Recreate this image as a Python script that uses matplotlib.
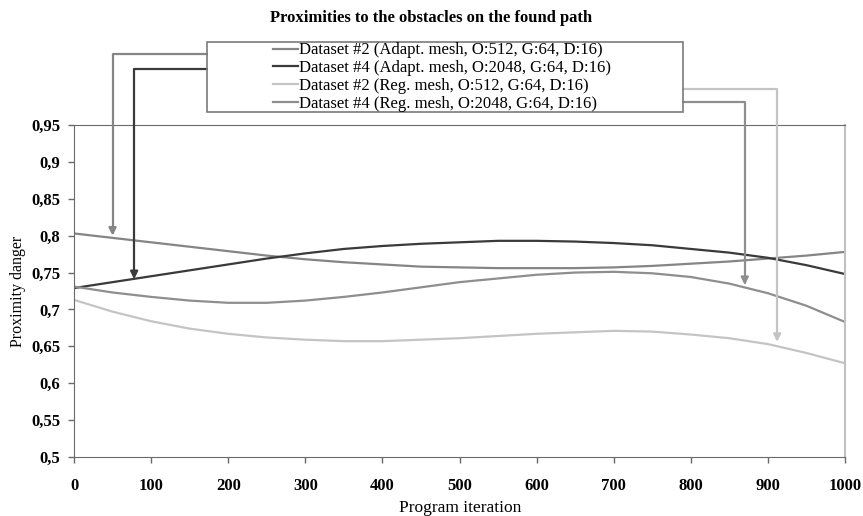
import matplotlib.pyplot as plt
from matplotlib.patches import Rectangle
import numpy as np

plt.rcParams['font.family'] = ['Liberation Serif', 'DejaVu Serif']

iterations = np.arange(0, 1001, 50)

adapt_ds2 = [0.803, 0.797, 0.791, 0.785, 0.779, 0.773, 0.768, 0.764, 0.761, 0.758, 0.757,
             0.756, 0.756, 0.756, 0.757, 0.759, 0.762, 0.765, 0.769, 0.773, 0.778]
adapt_ds4 = [0.729, 0.737, 0.745, 0.753, 0.761, 0.769, 0.776, 0.782, 0.786, 0.789, 0.791,
             0.793, 0.793, 0.792, 0.790, 0.787, 0.782, 0.777, 0.770, 0.760, 0.748]
reg_ds2 = [0.713, 0.697, 0.684, 0.674, 0.667, 0.662, 0.659, 0.657, 0.657, 0.659, 0.661,
           0.664, 0.667, 0.669, 0.671, 0.670, 0.666, 0.661, 0.653, 0.641, 0.627]
reg_ds4 = [0.731, 0.723, 0.717, 0.712, 0.709, 0.709, 0.712, 0.717, 0.723, 0.730, 0.737,
           0.742, 0.747, 0.750, 0.751, 0.749, 0.744, 0.735, 0.722, 0.705, 0.683]

labels = ['Dataset #2 (Adapt. mesh, O:512, G:64, D:16)',
          'Dataset #4 (Adapt. mesh, O:2048, G:64, D:16)',
          'Dataset #2 (Reg. mesh, O:512, G:64, D:16)',
          'Dataset #4 (Reg. mesh, O:2048, G:64, D:16)']
colors = ['#858585', '#3a3a3a', '#c4c4c4', '#8e8e8e']

# where each legend arrow points (iteration, value)
arrow_x = [50, 78, 912, 870]
arrow_y = [0.800, 0.741, 0.656, 0.733]

yticks = [0.5, 0.55, 0.6, 0.65, 0.7, 0.75, 0.8, 0.85, 0.9, 0.95]
ytick_labels = ['0,5', '0,55', '0,6', '0,65', '0,7', '0,75', '0,8', '0,85', '0,9', '0,95']
xticks = list(range(0, 1001, 100))

W, H = 863, 516
fig = plt.figure(figsize=(W / 100, H / 100), dpi=100)
ax = fig.add_axes([74 / W, 1 - 457 / H, (845 - 74) / W, (457 - 125) / H])

series = [adapt_ds2, adapt_ds4, reg_ds2, reg_ds4]
handles = []
for vals, c, lab in zip(series, colors, labels):
    h, = ax.plot(iterations, vals, color=c, lw=1.6, label=lab)
    handles.append(h)

ax.set_xlim(0, 1000)
ax.set_ylim(0.5, 0.95)
ax.set_xticks(xticks)
ax.set_xticklabels([str(t) for t in xticks], fontweight='bold', fontsize=12)
ax.set_yticks(yticks)
ax.set_yticklabels(ytick_labels, fontweight='bold', fontsize=12)
ax.tick_params(direction='out', length=4, width=1, color='#6a6a6a', pad=11)
ax.tick_params(axis='y', pad=6)

for s in ['left', 'bottom', 'top']:
    ax.spines[s].set_color('#6a6a6a')
ax.spines['right'].set_color('#c0c0c0')
ax.spines['right'].set_linewidth(1.5)

fig.text(460 / W, 0.5 / H, 'Program iteration', fontsize=12.5, ha='center', va='bottom')
ax.set_ylabel('Proximity danger', fontsize=11.5)
ax.yaxis.set_label_coords(-0.062, 0.5)

fig.text(0.5, 1 - 18 / H, 'Proximities to the obstacles on the found path',
         ha='center', va='center', fontweight='bold', fontsize=12)

# legend box
fig.patches.append(Rectangle((207 / W, 1 - 112 / H), 476 / W, 70 / H,
                             transform=fig.transFigure, fill=False,
                             edgecolor='#7a7a7a', lw=1.2))
fig.legend(handles, labels, loc='center', bbox_to_anchor=(442 / W, 1 - 77 / H),
           frameon=False, fontsize=12, handlelength=1.5, handletextpad=0.1,
           labelspacing=0.1, borderpad=0)

# connectors from the legend to the curves
starts = [(207, 54), (207, 69), (683, 89), (683, 102)]
for (sx, sy), tx, ty, c in zip(starts, arrow_x, arrow_y, colors):
    ax.annotate('', xy=(tx, ty), xycoords='data',
                xytext=(sx / W, 1 - sy / H), textcoords='figure fraction',
                arrowprops=dict(arrowstyle='-|>', color=c, lw=1.6,
                                connectionstyle='angle,angleA=0,angleB=90,rad=0',
                                shrinkA=0, shrinkB=0, mutation_scale=11),
                annotation_clip=False)

fig.savefig('out.png', dpi=100)
